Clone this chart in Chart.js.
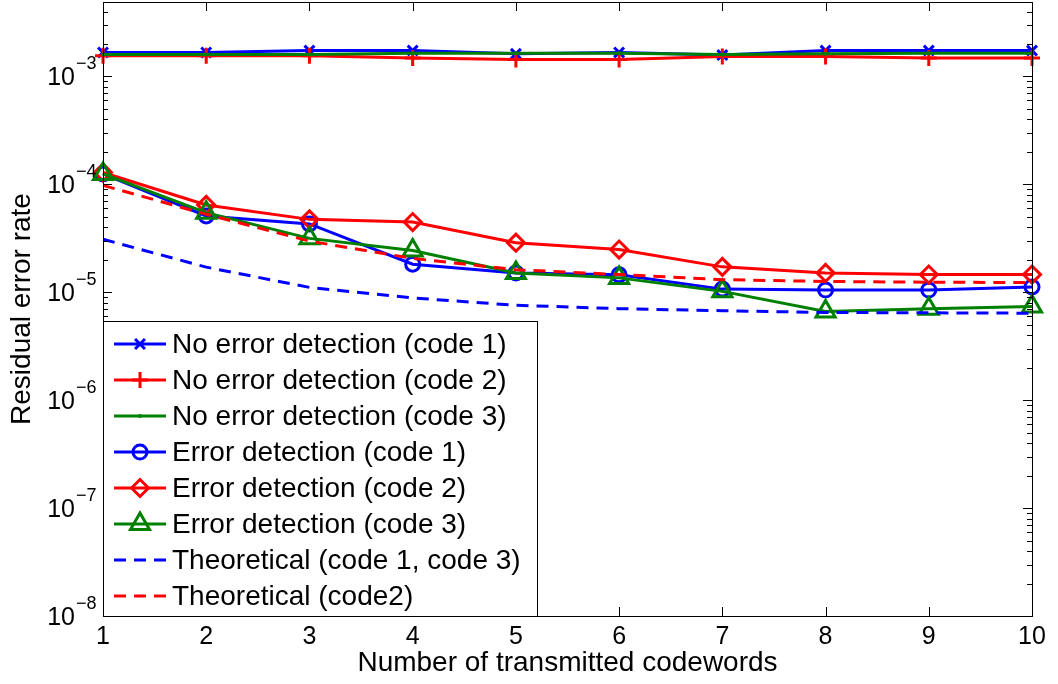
<!DOCTYPE html>
<html><head><meta charset="utf-8">
<script src="https://cdn.jsdelivr.net/npm/chart.js@4/dist/chart.umd.min.js"></script>
<style>html,body{margin:0;padding:0;background:#fff;} canvas{display:block;}</style>
</head><body>
<canvas id="c" width="1058" height="684"></canvas>
<script>
// ---- data ----
const codewords = [1, 2, 3, 4, 5, 6, 7, 8, 9, 10];
const noDetCode1 = [1.67e-3, 1.67e-3, 1.74e-3, 1.74e-3, 1.62e-3, 1.67e-3, 1.58e-3, 1.74e-3, 1.74e-3, 1.74e-3];
const noDetCode2 = [1.56e-3, 1.56e-3, 1.56e-3, 1.48e-3, 1.44e-3, 1.44e-3, 1.53e-3, 1.53e-3, 1.48e-3, 1.48e-3];
const noDetCode3 = [1.60e-3, 1.60e-3, 1.60e-3, 1.64e-3, 1.64e-3, 1.64e-3, 1.60e-3, 1.62e-3, 1.64e-3, 1.64e-3];
const detCode1 = [1.25e-4, 5.1e-5, 4.3e-5, 1.82e-5, 1.51e-5, 1.45e-5, 1.07e-5, 1.05e-5, 1.05e-5, 1.12e-5];
const detCode2 = [1.29e-4, 6.45e-5, 4.74e-5, 4.48e-5, 2.88e-5, 2.49e-5, 1.72e-5, 1.51e-5, 1.46e-5, 1.46e-5];
const detCode3 = [1.25e-4, 5.47e-5, 3.16e-5, 2.44e-5, 1.51e-5, 1.36e-5, 1.02e-5, 6.65e-6, 7.05e-6, 7.4e-6];
const theoCode13 = [3.1e-5, 1.71e-5, 1.11e-5, 8.86e-6, 7.58e-6, 7.05e-6, 6.75e-6, 6.5e-6, 6.45e-6, 6.4e-6];
const theoCode2 = [9.8e-5, 5.28e-5, 2.98e-5, 2.06e-5, 1.62e-5, 1.46e-5, 1.31e-5, 1.26e-5, 1.24e-5, 1.23e-5];
const seriesLabels = [
  'No error detection (code 1)',
  'No error detection (code 2)',
  'No error detection (code 3)',
  'Error detection (code 1)',
  'Error detection (code 2)',
  'Error detection (code 3)',
  'Theoretical (code 1, code 3)',
  'Theoretical (code2)'
];
const yTickExponents = [-8, -7, -6, -5, -4, -3];
const xAxisTitle = 'Number of transmitted codewords';
const yAxisTitle = 'Residual error rate';

// ---- styling ----
const BLUE = '#0000ff', RED = '#ff0000', GREEN = '#008000';
const FONT = '"Liberation Sans", Arial, Helvetica, sans-serif';
const seriesValues = [noDetCode1, noDetCode2, noDetCode3, detCode1, detCode2, detCode3, theoCode13, theoCode2];
const styles = [
  {color: BLUE, marker: 'crossRot', r: 7, dash: []},
  {color: RED, marker: 'cross', r: 8, dash: []},
  {color: GREEN, marker: 'dot', r: 2, dash: []},
  {color: BLUE, marker: 'circle', r: 7, dash: []},
  {color: RED, marker: 'rectRot', r: 8.5, dash: []},
  {color: GREEN, marker: 'triangle', r: 11, dash: []},
  {color: BLUE, marker: null, r: 0, dash: [12, 8]},
  {color: RED, marker: null, r: 0, dash: [12, 8]}
];

const datasets = seriesValues.map((vals, i) => {
  const s = styles[i];
  const isDot = s.marker === 'dot';
  return {
    label: seriesLabels[i],
    data: codewords.map((c, k) => ({x: c, y: vals[k]})),
    borderColor: s.color,
    borderWidth: 3,
    borderDash: s.dash,
    tension: 0,
    fill: false,
    clip: false,
    order: seriesValues.length - i,
    pointStyle: s.marker ? (isDot ? 'circle' : s.marker) : 'circle',
    pointRadius: s.r,
    pointHoverRadius: s.r,
    pointBorderWidth: isDot ? 0 : 3,
    pointBorderColor: s.color,
    pointBackgroundColor: isDot ? s.color : 'rgba(0,0,0,0)'
  };
});

function drawMarker(ctx, style, x, y, r, color) {
  if (!style) return;
  ctx.save();
  ctx.strokeStyle = color; ctx.fillStyle = color; ctx.lineWidth = 3;
  ctx.beginPath();
  if (style === 'dot') { ctx.arc(x, y, r, 0, Math.PI * 2); ctx.fill(); }
  else if (style === 'circle') { ctx.arc(x, y, r, 0, Math.PI * 2); ctx.stroke(); }
  else if (style === 'cross') { ctx.moveTo(x - r, y); ctx.lineTo(x + r, y); ctx.moveTo(x, y - r); ctx.lineTo(x, y + r); ctx.stroke(); }
  else if (style === 'crossRot') { const d = r * Math.SQRT1_2; ctx.moveTo(x - d, y - d); ctx.lineTo(x + d, y + d); ctx.moveTo(x + d, y - d); ctx.lineTo(x - d, y + d); ctx.stroke(); }
  else if (style === 'rectRot') { ctx.moveTo(x - r, y); ctx.lineTo(x, y - r); ctx.lineTo(x + r, y); ctx.lineTo(x, y + r); ctx.closePath(); ctx.stroke(); }
  else if (style === 'triangle') {
    let a = 0;
    ctx.moveTo(x + Math.sin(a) * r, y - Math.cos(a) * r);
    a += 2 * Math.PI / 3; ctx.lineTo(x + Math.sin(a) * r, y - Math.cos(a) * r);
    a += 2 * Math.PI / 3; ctx.lineTo(x + Math.sin(a) * r, y - Math.cos(a) * r);
    ctx.closePath(); ctx.stroke();
  }
  ctx.restore();
}

const framePlugin = {
  id: 'frame',
  afterDatasetsDraw(chart) {
    const {ctx, chartArea: a, scales: {x, y}} = chart;
    ctx.save();
    ctx.strokeStyle = '#000';
    ctx.lineWidth = 1;
    ctx.beginPath();
    codewords.forEach(v => {
      const px = Math.round(x.getPixelForValue(v)) + 0.5;
      ctx.moveTo(px, a.bottom); ctx.lineTo(px, a.bottom - 9);
      ctx.moveTo(px, a.top); ctx.lineTo(px, a.top + 9);
    });
    yTickExponents.forEach(e => {
      for (let m = 1; m <= 9; m++) {
        const v = m * Math.pow(10, e);
        if (v > y.max) break;
        const py = Math.round(y.getPixelForValue(v)) + 0.5;
        const len = m === 1 ? 9 : 5;
        ctx.moveTo(a.left, py); ctx.lineTo(a.left + len, py);
        ctx.moveTo(a.right, py); ctx.lineTo(a.right - len, py);
      }
    });
    ctx.stroke();
    ctx.strokeRect(Math.round(a.left) + 0.5, Math.round(a.top) + 0.5, Math.round(a.right - a.left), Math.round(a.bottom - a.top));
    ctx.restore();
  },
  afterDraw(chart) {
    const {ctx, chartArea: a, scales: {y}} = chart;
    ctx.save();
    // y tick labels 10^e
    ctx.fillStyle = '#000';
    yTickExponents.forEach(e => {
      const py = y.getPixelForValue(Math.pow(10, e));
      ctx.font = '25px ' + FONT;
      ctx.textAlign = 'right'; ctx.textBaseline = 'middle';
      ctx.fillText('10', a.left - 28, py + 2);
      ctx.font = '18px ' + FONT;
      ctx.textAlign = 'left'; ctx.textBaseline = 'alphabetic';
      ctx.fillText('\u2212' + Math.abs(e), a.left - 27, py - 7);
    });
    // legend
    const lx0 = a.left, lx1 = 537, ly0 = 321, ly1 = a.bottom;
    ctx.fillStyle = '#fff';
    ctx.fillRect(lx0, ly0, lx1 - lx0, ly1 - ly0);
    ctx.strokeStyle = '#000'; ctx.lineWidth = 1;
    ctx.strokeRect(Math.round(lx0) + 0.5, ly0 + 0.5, lx1 - Math.round(lx0), Math.round(ly1) - ly0);
    seriesLabels.forEach((lab, i) => {
      const s = styles[i];
      const cy = 344 + i * 36;
      ctx.save();
      ctx.strokeStyle = s.color; ctx.lineWidth = 3; ctx.setLineDash(s.dash);
      ctx.beginPath(); ctx.moveTo(114, cy); ctx.lineTo(166, cy); ctx.stroke();
      ctx.restore();
      drawMarker(ctx, s.marker, 140, cy, s.r, s.color);
      ctx.fillStyle = '#000';
      ctx.font = '28px ' + FONT;
      ctx.textAlign = 'left'; ctx.textBaseline = 'middle';
      ctx.fillText(lab, 172, cy + 1);
    });
    ctx.restore();
  }
};

new Chart(document.getElementById('c'), {
  type: 'line',
  data: {datasets},
  options: {
    responsive: false,
    devicePixelRatio: 1,
    animation: false,
    layout: {autoPadding: false, padding: {left: 0, right: 26, top: 2, bottom: 0}},
    plugins: {legend: {display: false}, tooltip: {enabled: false}},
    scales: {
      x: {
        type: 'linear', min: 1, max: 10, position: 'bottom',
        grid: {display: false, drawTicks: false},
        border: {display: false},
        ticks: {stepSize: 1, autoSkip: false, color: '#000', padding: 6, maxRotation: 0,
                font: {family: FONT, size: 25}},
        title: {display: true, text: xAxisTitle, color: '#000', font: {family: FONT, size: 28},
                padding: {top: 0, bottom: 4}},
        afterFit(s) { s.height = 68; }
      },
      y: {
        type: 'logarithmic', min: 1e-8, max: 4.9e-3, position: 'left',
        grid: {display: false, drawTicks: false},
        border: {display: false},
        ticks: {display: false},
        title: {display: true, text: yAxisTitle, color: '#000', font: {family: FONT, size: 28},
                padding: {top: 5, bottom: 0}},
        afterFit(s) { s.width = 103; }
      }
    }
  },
  plugins: [framePlugin]
});
</script>
</body></html>
